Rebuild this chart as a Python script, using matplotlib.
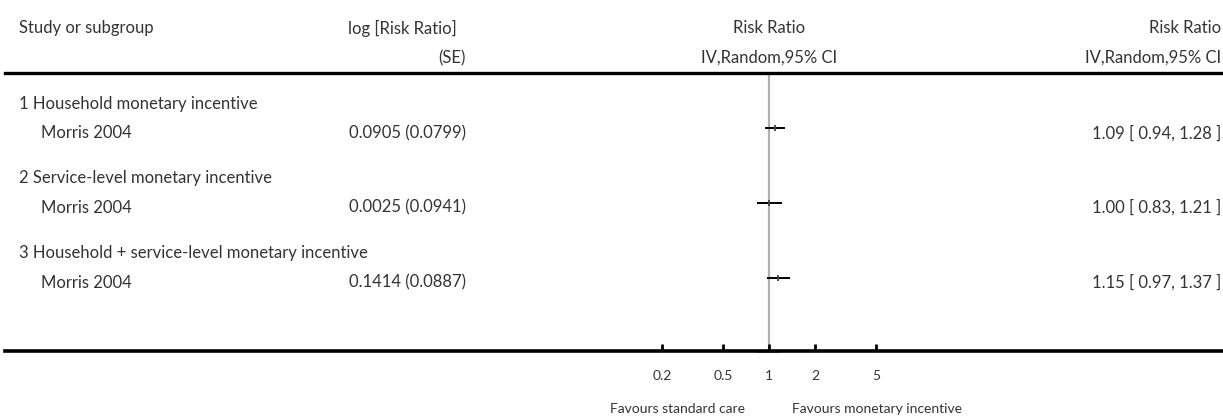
import numpy as np
import matplotlib.pyplot as plt
from matplotlib.lines import Line2D
from matplotlib.transforms import blended_transform_factory

plt.rcParams['font.family'] = ['Lato', 'DejaVu Sans']

# -------------------------------------------------
# Data
# -------------------------------------------------

groups = ["1 Household monetary incentive",
          "2 Service-level monetary incentive",
          "3 Household + service-level monetary incentive"]
studies = ["Morris 2004", "Morris 2004", "Morris 2004"]
log_rr = [0.0905, 0.0025, 0.1414]
se = [0.0799, 0.0941, 0.0887]
rr = [1.09, 1.00, 1.15]
ci_low = [0.94, 0.83, 0.97]
ci_high = [1.28, 1.21, 1.37]

tick_vals = [0.2, 0.5, 1, 2, 5]
tick_labels = ["0.2", "0.5", "1", "2", "5"]

# -------------------------------------------------
# Layout
# -------------------------------------------------

W, H = 1223, 417
txt_col = '#333333'
fs_main = 12

fig = plt.figure(figsize=(W/100, H/100), dpi=100)

top_px, bot_px = 72.5, 350.8
ax_l, ax_r = 616, 922
ax = fig.add_axes([ax_l/W, 1 - bot_px/H, (ax_r - ax_l)/W, (bot_px - top_px)/H])
ax.set_xscale('log')
ax.set_xlim(0.1, 10)
ax.set_ylim(3.979, 0.253)
for s in ax.spines.values():
    s.set_visible(False)
ax.set_yticks([])
ax.set_xticks(tick_vals)
ax.set_xticklabels(tick_labels)
ax.minorticks_off()
ax.tick_params(axis='x', direction='in', length=5, width=2, color='black',
               pad=14, labelsize=10, labelcolor=txt_col)
ax.patch.set_alpha(0)

# line of no effect
ax.axvline(1, color='#b0b0b0', linewidth=1.6, zorder=1)

# confidence intervals and point estimates
rows = np.arange(1, len(rr) + 1)
ax.hlines(rows, ci_low, ci_high, color='black', linewidth=1.4, zorder=3)
ax.plot(rr, rows, linestyle='none', marker='|', markersize=5,
        markeredgewidth=1.3, color='#444444', zorder=4)

# empty total marker under the axis
ax.plot([0.85, 1.16], [3.995, 3.995], color='#999999', linewidth=1.5,
        clip_on=False, zorder=2)

# -------------------------------------------------
# Rules
# -------------------------------------------------

fig.add_artist(Line2D([5/W, 1], [1 - top_px/H] * 2, color='black',
                      linewidth=2.4, transform=fig.transFigure))
fig.add_artist(Line2D([5/W, 1], [1 - bot_px/H] * 2, color='black',
                      linewidth=2.6, transform=fig.transFigure, zorder=5))

# -------------------------------------------------
# Text columns
# -------------------------------------------------

def fx(px):
    return px / W

def fy(px):
    return 1 - px / H

kw = dict(fontsize=fs_main, color=txt_col, va='center')
fig.text(fx(19), fy(28), "Study or subgroup", ha='left', **kw)
fig.text(fx(457), fy(28), "log [Risk Ratio]", ha='right', **kw)
fig.text(fx(466), fy(58), "(SE)", ha='right', **kw)
fig.text(fx(769), fy(28), "Risk Ratio", ha='center', **kw)
fig.text(fx(769), fy(58), "IV,Random,95% CI", ha='center', **kw)
fig.text(fx(1221), fy(28), "Risk Ratio", ha='right', **kw)
fig.text(fx(1221), fy(58), "IV,Random,95% CI", ha='right', **kw)

tr = blended_transform_factory(fig.transFigure, ax.transData)
for i, y in enumerate(rows):
    fig.text(fx(19), y - 0.33, groups[i], ha='left', transform=tr, **kw)
    fig.text(fx(41), y + 0.065, studies[i], ha='left', transform=tr, **kw)
    fig.text(fx(466), y + 0.065, f"{log_rr[i]:.4f} ({se[i]:.4f})",
             ha='right', transform=tr, **kw)
    fig.text(fx(1221), y + 0.065,
             f"{rr[i]:.2f} [ {ci_low[i]:.2f}, {ci_high[i]:.2f} ]",
             ha='right', transform=tr, **kw)

fig.text(fx(745), fy(409), "Favours standard care", ha='right',
         fontsize=10, color=txt_col, va='center')
fig.text(fx(792), fy(409), "Favours monetary incentive", ha='left',
         fontsize=10, color=txt_col, va='center')

fig.savefig('out.png', dpi=100)
